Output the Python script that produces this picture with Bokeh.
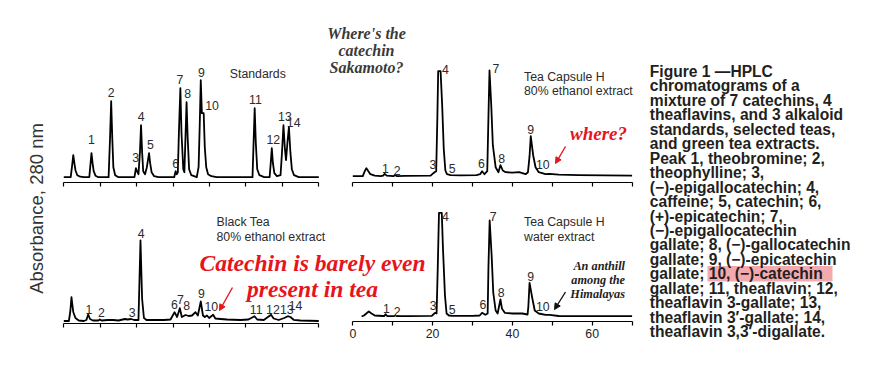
import math
from bokeh.plotting import figure
from bokeh.models import Range1d, LinearAxis, FixedTicker, Arrow, NormalHead
from bokeh.core.properties import value
from bokeh.embed import file_html
from bokeh.resources import INLINE

# ---------------- data (retention time in min, absorbance in AU) ----------------
TICKS = [0, 10, 20, 30, 40, 50, 60, 70]
TICK_LABELS = {0: "0", 20: "20", 40: "40", 60: "60"}

# Standards
tl_t = [0.0, 1.9, 2.3, 2.6, 2.9, 3.2, 3.7, 4.5, 5.5,
        7.0, 7.3, 7.6, 7.9, 8.2, 8.7, 9.5,
        12.3, 12.7, 13.0, 13.3, 13.6, 14.1, 15.0,
        19.4, 19.8, 20.1, 20.5, 20.9, 21.2, 21.5, 21.8, 22.3, 22.8, 23.4, 23.7, 24.1, 24.8, 26.0,
        30.3, 30.7, 31.0, 31.3, 31.6, 32.0, 32.3, 32.8, 33.1, 33.4, 33.7, 34.0, 34.4, 35.0, 36.5,
        37.0, 37.3, 37.6, 37.9, 38.4, 38.7, 39.1, 39.6, 40.5, 42.0,
        51.8, 52.1, 52.4, 52.7, 53.1, 53.7, 55.0,
        56.5, 56.8, 57.1, 57.4, 57.8, 58.5, 59.5, 59.9, 60.3, 60.7, 61.0, 61.4, 61.8, 62.2, 62.6, 63.2, 64.5, 70.0]
tl_a = [0.0, 0.0, 0.12, 0.22, 0.14, 0.07, 0.02, 0.005, 0.0,
        0.0, 0.12, 0.24, 0.14, 0.06, 0.015, 0.0,
        0.0, 0.40, 0.76, 0.40, 0.10, 0.02, 0.0,
        0.0, 0.09, 0.06, 0.03, 0.25, 0.52, 0.25, 0.06, 0.03, 0.10, 0.24, 0.14, 0.05, 0.01, 0.0,
        0.0, 0.06, 0.03, 0.05, 0.45, 0.89, 0.45, 0.08, 0.05, 0.40, 0.75, 0.40, 0.08, 0.02, 0.0,
        0.10, 0.50, 0.97, 0.64, 0.64, 0.30, 0.10, 0.03, 0.01, 0.0,
        0.0, 0.35, 0.69, 0.35, 0.08, 0.02, 0.0,
        0.0, 0.14, 0.29, 0.14, 0.04, 0.01, 0.02, 0.25, 0.52, 0.28, 0.17, 0.35, 0.50, 0.25, 0.08, 0.02, 0.0, 0.0]
tl_lab = ["1", "2", "3", "4", "5", "6", "7", "8", "9", "10", "11", "12", "13", "14"]
tl_lab_t = [7.6, 13.0, 19.7, 21.25, 23.8, 30.7, 31.85, 34.0, 37.8, 40.7, 52.6, 57.5, 60.7, 63.1]
tl_lab_a = [0.377, 0.85, 0.20, 0.607, 0.324, 0.134, 0.974, 0.834, 1.05, 0.717, 0.774, 0.374, 0.607, 0.547]

# Tea Capsule H, 80% ethanol extract
tr_t = [0.0, 2.5, 3.0, 3.4, 3.9, 4.4, 5.5, 7.0,
        7.6, 8.0, 8.5, 10.2, 10.6, 11.1, 13.0, 19.5,
        20.2, 20.5, 20.9, 21.2, 21.4, 22.0, 22.4, 22.8, 23.2, 23.6, 24.5, 27.0, 31.0,
        31.9, 32.4, 33.0, 33.7, 34.0, 34.26, 34.7, 35.1, 35.8, 36.5, 37.0, 37.6, 38.3, 40.0, 41.7, 43.3,
        43.9, 44.3, 44.6, 45.2, 45.8, 46.6, 48.3, 49.3, 51.6, 56.6, 70.0]
tr_a = [0.0, 0.0, 0.05, 0.08, 0.05, 0.02, 0.005, 0.0,
        0.005, 0.024, 0.005, 0.0, 0.013, 0.0, 0.003, 0.005,
        0.03, 0.04, 0.05, 0.6, 1.05, 1.05, 0.71, 0.27, 0.057, 0.02, 0.01, 0.008, 0.01,
        0.02, 0.05, 0.02, 0.05, 0.6, 1.057, 0.71, 0.31, 0.09, 0.04, 0.11, 0.057, 0.04, 0.035, 0.04, 0.02,
        0.04, 0.2, 0.40, 0.21, 0.09, 0.04, 0.02, 0.024, 0.015, 0.01, 0.005]
tr_lab = ["1", "2", "3", "4", "5", "6", "7", "8", "9", "10"]
tr_lab_t = [8.2, 11.1, 20.05, 23.2, 24.9, 32.25, 35.9, 37.3, 44.6, 47.6]
tr_lab_a = [0.074, 0.057, 0.114, 1.067, 0.074, 0.124, 1.074, 0.18, 0.467, 0.114]

# Black Tea, 80% ethanol extract
bl_t = [0.0, 1.4, 1.8, 2.1, 2.6, 3.2, 4.1, 5.5,
        6.2, 6.7, 7.2, 8.0, 9.5, 9.9, 10.4, 12.0, 13.6, 15.0, 16.8, 17.5, 18.5, 19.3, 20.5,
        21.05, 21.5, 22.0, 22.7, 25.0, 27.5, 29.3,
        30.4, 31.1, 31.85, 32.4, 33.4, 34.3, 35.2, 36.15, 36.8, 37.6, 38.2, 38.7, 39.3, 39.9, 41.0, 41.6, 43.0, 44.8, 48.5, 50.7,
        52.35, 53.1, 54.9, 56.9, 57.6, 59.0, 60.5, 61.5, 62.2, 63.1, 64.9, 70.0]
bl_a = [0.0, 0.0, 0.1, 0.238, 0.09, 0.03, 0.005, 0.0,
        0.01, 0.065, 0.02, 0.005, 0.005, 0.015, 0.005, 0.01, 0.01, 0.005, 0.02, 0.015, 0.02, 0.01, 0.01,
        0.805, 0.22, 0.03, 0.01, 0.01, 0.01, 0.015,
        0.088, 0.04, 0.128, 0.04, 0.06, 0.05, 0.055, 0.088, 0.055, 0.195, 0.055, 0.04, 0.055, 0.03, 0.062, 0.025, 0.02, 0.015, 0.01, 0.015,
        0.048, 0.015, 0.01, 0.062, 0.025, 0.01, 0.03, 0.048, 0.04, 0.012, 0.005, 0.0]
bl_lab = ["1", "2", "3", "4", "6", "7", "8", "9", "10", "11", "12", "13", "14"]
bl_lab_t = [6.9, 10.3, 18.8, 21.25, 30.4, 32.0, 33.7, 37.8, 40.5, 52.8, 57.4, 61.2, 63.6]
bl_lab_a = [0.12, 0.09, 0.088, 0.872, 0.162, 0.215, 0.16, 0.28, 0.145, 0.12, 0.115, 0.115, 0.16]

# Tea Capsule H, water extract
br_t = [2.2, 2.8, 3.4, 4.0, 4.7, 5.5, 7.5,
        7.9, 8.2, 8.6, 10.3, 10.7, 11.1, 14.0, 19.8,
        20.3, 20.6, 21.0, 21.3, 21.6, 22.3, 22.6, 23.1, 23.5, 24.1, 25.0, 30.0, 31.8,
        32.4, 33.2, 33.8, 34.0, 34.3, 34.8, 35.2, 35.8, 36.3, 37.0, 37.4, 38.1, 40.0, 42.5, 43.8,
        44.0, 44.3, 45.0, 45.6, 46.6, 48.3, 49.3, 51.6, 70.0]
br_a = [0.0, 0.01, 0.03, 0.05, 0.03, 0.01, 0.005,
        0.005, 0.023, 0.005, 0.004, 0.01, 0.004, 0.003, 0.006,
        0.025, 0.037, 0.03, 0.5, 1.037, 1.037, 0.68, 0.21, 0.03, 0.01, 0.006, 0.006, 0.01,
        0.037, 0.017, 0.03, 0.5, 0.96, 0.61, 0.24, 0.06, 0.03, 0.17, 0.077, 0.037, 0.03, 0.03, 0.02,
        0.1, 0.337, 0.18, 0.06, 0.03, 0.017, 0.017, 0.005, 0.003]
br_lab = ["1", "2", "3", "4", "5", "6", "7", "8", "9", "10"]
br_lab_t = [8.4, 11.1, 20.15, 23.2, 24.9, 32.6, 35.2, 37.2, 44.6, 47.6]
br_lab_a = [0.077, 0.05, 0.11, 1.003, 0.067, 0.117, 1.003, 0.237, 0.403, 0.103]

caption_lines = [
    "Figure 1 \u2014HPLC",
    "chromatograms of a",
    "mixture of 7 catechins, 4",
    "theaflavins, and 3 alkaloid",
    "standards, selected teas,",
    "and green tea extracts.",
    "Peak 1, theobromine; 2,",
    "theophylline; 3,",
    "(\u2212)-epigallocatechin; 4,",
    "caffeine; 5, catechin; 6,",
    "(+)-epicatechin; 7,",
    "(\u2212)-epigallocatechin",
    "gallate; 8, (\u2212)-gallocatechin",
    "gallate; 9, (\u2212)-epicatechin",
    "gallate; 10, (\u2212)-catechin",
    "gallate; 11, theaflavin; 12,",
    "theaflavin 3-gallate; 13,",
    "theaflavin 3\u2032-gallate; 14,",
    "theaflavin 3,3\u2032-digallate.",
]

for a, b in [(tl_t, tl_a), (tr_t, tr_a), (bl_t, bl_a), (br_t, br_a),
             (tl_lab_t, tl_lab_a), (tr_lab_t, tr_lab_a), (bl_lab_t, bl_lab_a), (br_lab_t, br_lab_a)]:
    assert len(a) == len(b)

# ---------------- layout / style ----------------
# (annotation coordinates below are screenshot pixel positions; the plot sits at the page origin)
W, H = 865, 352
PX0, PX1 = 0, W
PY0, PY1 = 0, H
RED = "#e8141c"
INK = "#2b2b2b"
SANS_NAME = "Liberation Sans"
SANS = value(SANS_NAME)
SERIF = value("Liberation Serif")


def span_range(p_lo, p_hi, v_lo, v_hi, a, b):
    k = (v_hi - v_lo) / (p_hi - p_lo)
    return Range1d(v_lo + (a - p_lo) * k, v_lo + (b - p_lo) * k)


p = figure(width=W, height=H, output_backend="svg", toolbar_location=None,
           x_range=Range1d(PX0, PX1), y_range=Range1d(PY1, PY0),
           x_axis_location=None, y_axis_location=None, min_border=0,
           outline_line_color=None, background_fill_color="white")
p.grid.visible = False

p.extra_x_ranges = {
    "lx": span_range(63.3, 318.3, 0, 70, PX0, PX1),
    "rx": span_range(352.3, 631.6, 0, 70, PX0, PX1),
}
baselines = {"tl": 176.7, "tr": 175.7, "bl": 320.5, "br": 316.0}
p.extra_y_ranges = {k: span_range(B, B - 100, 0, 1, PY1, PY0) for k, B in baselines.items()}

panels = [
    ("lx", "tl", tl_t, tl_a, tl_lab, tl_lab_t, tl_lab_a, 182.0, False),
    ("rx", "tr", tr_t, tr_a, tr_lab, tr_lab_t, tr_lab_a, 181.7, False),
    ("lx", "bl", bl_t, bl_a, bl_lab, bl_lab_t, bl_lab_a, 322.8, False),
    ("rx", "br", br_t, br_a, br_lab, br_lab_t, br_lab_a, 321.2, True),
]

for xn, yn, t, a, labs, lt, la, axloc, show in panels:
    p.line(t, a, x_range_name=xn, y_range_name=yn, line_color="black", line_width=1.8,
           line_join="round")
    p.text(x=lt, y=la, text=labs, x_range_name=xn, y_range_name=yn,
           text_font=SANS, text_font_size="12.3px", text_color=INK,
           text_align="center", text_baseline="middle")
    ax = LinearAxis(x_range_name=xn, fixed_location=axloc, bounds=(0, 70),
                    ticker=FixedTicker(ticks=TICKS),
                    major_label_overrides={tk: (TICK_LABELS.get(tk, "") if show else "") for tk in TICKS},
                    axis_line_color="black", axis_line_width=1.2,
                    major_tick_line_color="black", major_tick_line_width=1.2,
                    major_tick_in=0, major_tick_out=4,
                    minor_tick_line_color=None,
                    major_label_standoff=3,
                    major_label_text_font=SANS_NAME, major_label_text_font_size="12.3px",
                    major_label_text_color="#222222")
    p.add_layout(ax, "below")

# panel titles
p.text(x=[229.3, 523.5, 523.5, 216.0, 216.0, 523.5, 523.5],
       y=[73.3, 76.5, 90.8, 221.7, 236.3, 221.7, 236.3],
       text=["Standards", "Tea Capsule H", "80% ethanol extract", "Black Tea",
             "80% ethanol extract", "Tea Capsule H", "water extract"],
       text_font=SANS, text_font_size="12.3px", text_color=INK,
       text_align="left", text_baseline="middle")

# y axis title
p.text(x=[36.0], y=[208.0], text=["Absorbance, 280 nm"], angle=math.pi / 2,
       text_font=SANS, text_font_size="18.5px", text_color="#333333",
       text_align="center", text_baseline="middle")

# commentary
p.text(x=[366.0, 366.0, 366.0], y=[33.0, 50.0, 67.0],
       text=["Where's the", "catechin", "Sakamoto?"],
       text_font=SERIF, text_font_style="bold italic", text_font_size="16px",
       text_color="#3a3a3a", text_align="center", text_baseline="middle")
p.text(x=[598.0], y=[133.3], text=["where?"],
       text_font=SERIF, text_font_style="bold italic", text_font_size="19px",
       text_color=RED, text_align="center", text_baseline="middle")
p.text(x=[312.0, 312.0], y=[262.0, 288.3],
       text=["Catechin is barely even", "present in tea"],
       text_font=SERIF, text_font_style="bold italic", text_font_size="23.6px",
       text_color=RED, text_align="center", text_baseline="middle")
p.text(x=[624.5, 624.5, 624.5], y=[265.7, 279.3, 293.3],
       text=["An anthill", "among the", "Himalayas"],
       text_font=SERIF, text_font_style="bold italic", text_font_size="12.3px",
       text_color="#222222", text_align="right", text_baseline="middle")

for (xs, ys, xe, ye, col) in [(565, 146, 555, 163, RED), (232, 287, 219, 310, RED),
                              (565, 291.5, 554, 309, "#111111")]:
    p.add_layout(Arrow(end=NormalHead(size=6, fill_color=col, line_color=col),
                       x_start=xs, y_start=ys, x_end=xe, y_end=ye,
                       line_color=col, line_width=1.4))

# caption with highlight
p.quad(left=[707.0], right=[832.0], top=[265.5], bottom=[281.0],
       fill_color="#f4a9ae", line_color=None)
p.text(x=[649.3] * len(caption_lines), y=[71.0 + 14.45 * i for i in range(len(caption_lines))],
       text=caption_lines, text_font=SANS, text_font_style="bold", text_font_size="15.6px",
       text_color="#231f20", text_align="left", text_baseline="middle")

open("out.html", "w").write(file_html(p, INLINE))
